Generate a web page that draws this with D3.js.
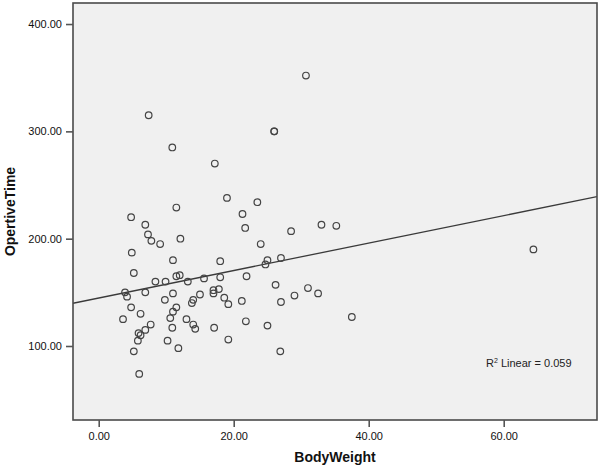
<!DOCTYPE html>
<html>
<head>
<meta charset="utf-8">
<script src="https://cdn.jsdelivr.net/npm/d3@7.9.0/dist/d3.min.js"></script>
<style>
  body { margin: 0; background: #fff; }
  svg { display: block; font-family: "Liberation Sans", Arial, sans-serif; }
</style>
</head>
<body>
<div id="viz"></div>
<script>
// Body weight vs operative time
const bodyWeight = [
  7.4, 10.9, 30.7, 26.0, 26.0, 17.2, 19.0, 23.5, 21.3, 21.7,
  28.5, 33.0, 35.2, 24.0, 18.0, 25.0, 24.7, 27.0, 21.9, 18.0,
  15.6, 13.2, 26.2, 31.0, 29.0, 32.5, 27.0, 21.2, 17.8, 17.0,
  17.0, 18.6, 19.2, 15.0, 13.8, 14.0, 21.8, 17.1, 19.2, 25.0,
  26.9, 37.5, 64.4, 4.8, 6.9, 7.3, 7.8, 9.1, 11.5, 12.1,
  4.9, 11.0, 5.2, 8.4, 9.9, 11.5, 12.0, 3.9, 4.2, 6.9,
  4.8, 3.6, 6.2, 9.8, 11.0, 11.5, 11.0, 10.6, 10.9, 13.0,
  14.0, 14.3, 7.7, 6.9, 5.9, 6.2, 5.8, 5.2, 10.2, 11.8,
  6.0
];
const operTime = [
  315, 285, 352, 300, 300, 270, 238, 234, 223, 210,
  207, 213, 212, 195, 179, 180, 176, 182, 165, 164,
  163, 160, 157, 154, 147, 149, 141, 142, 153, 152,
  149, 145, 139, 148, 140, 143, 123, 117, 106, 119,
  95, 127, 190, 220, 213, 204, 198, 195, 229, 200,
  187, 180, 168, 160, 160, 165, 166, 150, 146, 150,
  136, 125, 130, 143, 149, 136, 132, 126, 117, 125,
  120, 116, 120, 115, 112, 110, 105, 95, 105, 98,
  74
];

const xTicks = [0, 20, 40, 60];
const yTicks = [100, 200, 300, 400];

// fit line
const fitIntercept = 144.7;
const fitSlope = 1.28;
const fitLabel = "0.059";

const W = 600, H = 467;
const plot = {left: 73, right: 597, top: 3, bottom: 420};

const svg = d3.select("#viz").append("svg")
    .attr("width", W)
    .attr("height", H);

const x = d3.scaleLinear().domain([-3.81, 73.82]).range([plot.left, plot.right]);
const y = d3.scaleLinear().domain([31.05, 419.6]).range([plot.bottom, plot.top]);

// plot background
svg.append("rect")
    .attr("x", plot.left)
    .attr("y", plot.top)
    .attr("width", plot.right - plot.left)
    .attr("height", plot.bottom - plot.top)
    .attr("fill", "#f0f0f0");

svg.append("defs").append("clipPath").attr("id", "clip")
  .append("rect")
    .attr("x", plot.left).attr("y", plot.top)
    .attr("width", plot.right - plot.left)
    .attr("height", plot.bottom - plot.top);

// fit line
const x0 = x.domain()[0], x1 = x.domain()[1];
svg.append("line")
    .attr("clip-path", "url(#clip)")
    .attr("x1", x(x0)).attr("y1", y(fitIntercept + fitSlope * x0))
    .attr("x2", x(x1)).attr("y2", y(fitIntercept + fitSlope * x1))
    .attr("stroke", "#3a3a3a")
    .attr("stroke-width", 1.3);

// points
svg.append("g")
  .selectAll("circle")
  .data(bodyWeight.map((d, i) => [d, operTime[i]]))
  .join("circle")
    .attr("cx", d => x(d[0]))
    .attr("cy", d => y(d[1]))
    .attr("r", 3.3)
    .attr("fill", "none")
    .attr("stroke", "#444")
    .attr("stroke-width", 1.2);

// frame
svg.append("rect")
    .attr("x", plot.left)
    .attr("y", plot.top)
    .attr("width", plot.right - plot.left)
    .attr("height", plot.bottom - plot.top)
    .attr("fill", "none")
    .attr("stroke", "#4a4a4a")
    .attr("stroke-width", 1.6);

// axes
const xAxis = svg.append("g")
    .attr("transform", `translate(0,${plot.bottom})`)
    .call(d3.axisBottom(x).tickValues(xTicks).tickFormat(d3.format(".2f")).tickSize(7).tickSizeOuter(0));
const yAxis = svg.append("g")
    .attr("transform", `translate(${plot.left},0)`)
    .call(d3.axisLeft(y).tickValues(yTicks).tickFormat(d3.format(".2f")).tickSize(7).tickSizeOuter(0));

[xAxis, yAxis].forEach(g => {
  g.select(".domain").remove();
  g.selectAll(".tick line").attr("stroke", "#555").attr("stroke-width", 1.6);
  g.selectAll(".tick text")
    .attr("fill", "#111")
    .style("font-size", "11px")
    .style("font-family", "'Liberation Sans', Arial, sans-serif");
});
xAxis.selectAll(".tick text").attr("dy", "0.71em").attr("y", 12);
yAxis.selectAll(".tick text").attr("x", -11);

// axis titles
svg.append("text")
    .attr("x", (plot.left + plot.right) / 2)
    .attr("y", 462)
    .attr("text-anchor", "middle")
    .style("font-size", "14px")
    .style("font-weight", "bold")
    .attr("fill", "#111")
    .text("BodyWeight");

svg.append("text")
    .attr("transform", `translate(15,${(plot.top + plot.bottom) / 2}) rotate(-90)`)
    .attr("text-anchor", "middle")
    .style("font-size", "14px")
    .style("font-weight", "bold")
    .attr("fill", "#111")
    .text("OpertiveTime");

// R squared label
const r2 = svg.append("text")
    .attr("x", 486)
    .attr("y", 367)
    .style("font-size", "11px")
    .attr("fill", "#222");
r2.append("tspan").text("R");
r2.append("tspan").attr("dy", -4).style("font-size", "7px").text("2");
r2.append("tspan").attr("dy", 4).text(" Linear = " + fitLabel);
</script>
</body>
</html>
